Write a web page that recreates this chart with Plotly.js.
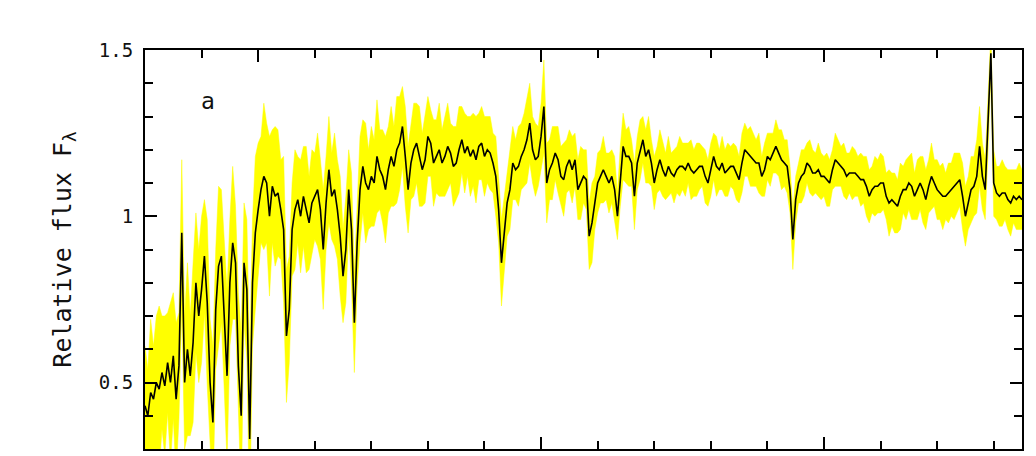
<!DOCTYPE html>
<html>
<head>
<meta charset="utf-8">
<script src="https://cdn.plot.ly/plotly-3.0.1.min.js"></script>
<style>
  body { margin: 0; background: #fff; }
  #spec { width: 1036px; height: 456px; }
</style>
</head>
<body>
<div id="spec"></div>
<script>
// wavelength grid, 10 A steps from 3600 to 6700
var lamStart = 3600, lamStep = 10;

// relative flux (black line), one row per 100 A
var flux = [
  0.43,0.40,0.47,0.45,0.50,0.48,0.53,0.49,0.56,0.50,
  0.58,0.45,0.55,0.95,0.50,0.60,0.52,0.62,0.80,0.70,
  0.78,0.88,0.74,0.50,0.38,0.72,0.85,0.88,0.70,0.52,
  0.80,0.92,0.86,0.55,0.40,0.86,0.78,0.33,0.80,0.95,
  1.02,1.08,1.12,1.10,1.00,1.09,1.06,1.07,1.02,0.96,
  0.64,0.72,0.96,1.02,1.05,1.00,1.06,1.02,0.98,1.04,
  1.06,1.08,1.02,0.90,1.04,1.14,1.06,1.08,1.02,0.94,
  0.82,0.90,1.08,0.96,0.68,0.92,1.08,1.15,1.10,1.08,
  1.12,1.10,1.18,1.14,1.12,1.08,1.14,1.18,1.15,1.20,
  1.22,1.27,1.18,1.08,1.16,1.20,1.22,1.18,1.14,1.17,
  1.24,1.22,1.16,1.18,1.20,1.16,1.18,1.21,1.19,1.15,
  1.16,1.20,1.23,1.19,1.21,1.18,1.20,1.17,1.21,1.22,
  1.18,1.20,1.19,1.16,1.12,1.02,0.86,0.95,1.04,1.08,
  1.16,1.14,1.15,1.18,1.20,1.23,1.28,1.20,1.17,1.18,
  1.24,1.33,1.10,1.14,1.16,1.19,1.17,1.12,1.11,1.15,
  1.17,1.14,1.17,1.08,1.10,1.12,1.11,0.94,0.98,1.04,
  1.10,1.12,1.14,1.12,1.10,1.12,1.08,1.00,1.12,1.21,
  1.18,1.18,1.16,1.06,1.16,1.20,1.23,1.18,1.20,1.16,
  1.10,1.14,1.17,1.14,1.12,1.15,1.13,1.12,1.14,1.15,
  1.15,1.14,1.16,1.14,1.13,1.14,1.15,1.15,1.12,1.10,
  1.14,1.18,1.15,1.14,1.16,1.13,1.14,1.15,1.15,1.13,
  1.11,1.16,1.20,1.19,1.18,1.17,1.16,1.16,1.12,1.14,
  1.18,1.17,1.19,1.21,1.19,1.17,1.16,1.15,1.08,0.93,
  1.05,1.10,1.12,1.13,1.16,1.15,1.13,1.13,1.14,1.12,
  1.12,1.11,1.10,1.14,1.17,1.16,1.15,1.14,1.12,1.13,
  1.13,1.13,1.12,1.11,1.11,1.09,1.06,1.08,1.09,1.09,
  1.10,1.10,1.06,1.04,1.05,1.04,1.03,1.06,1.08,1.08,
  1.10,1.09,1.06,1.08,1.10,1.08,1.05,1.09,1.12,1.10,
  1.08,1.07,1.06,1.06,1.07,1.08,1.09,1.10,1.11,1.06,
  1.00,1.04,1.08,1.09,1.12,1.21,1.12,1.08,1.30,1.49,
  1.10,1.07,1.06,1.07,1.07,1.05,1.04,1.06,1.05,1.06,1.05
];

// half width of the yellow error band
var fluxErr = [
  0.18,0.14,0.22,0.16,0.20,0.25,0.17,0.21,0.15,0.24,
  0.19,0.23,0.16,0.22,0.20,0.26,0.18,0.24,0.21,0.20,
  0.22,0.17,0.25,0.19,0.23,0.18,0.24,0.20,0.22,0.26,
  0.19,0.23,0.17,0.22,0.25,0.18,0.21,0.24,0.19,0.23,
  0.20,0.16,0.22,0.18,0.24,0.17,0.21,0.19,0.15,0.22,
  0.20,0.16,0.14,0.18,0.13,0.17,0.15,0.19,0.14,0.16,
  0.13,0.17,0.15,0.18,0.14,0.16,0.13,0.17,0.15,0.18,
  0.14,0.16,0.12,0.17,0.15,0.13,0.16,0.14,0.18,0.12,
  0.15,0.13,0.17,0.12,0.14,0.16,0.13,0.15,0.12,0.16,
  0.14,0.12,0.15,0.13,0.11,0.14,0.12,0.15,0.11,0.13,
  0.12,0.10,0.13,0.11,0.14,0.10,0.12,0.13,0.09,0.12,
  0.11,0.13,0.10,0.12,0.09,0.12,0.11,0.13,0.10,0.11,
  0.12,0.10,0.11,0.09,0.12,0.10,0.13,0.11,0.10,0.12,
  0.11,0.09,0.12,0.10,0.11,0.13,0.12,0.10,0.11,0.09,
  0.10,0.14,0.12,0.09,0.11,0.08,0.10,0.09,0.11,0.08,
  0.09,0.10,0.08,0.09,0.11,0.08,0.09,0.10,0.12,0.08,
  0.09,0.08,0.10,0.07,0.09,0.08,0.10,0.07,0.09,0.10,
  0.08,0.09,0.07,0.10,0.08,0.09,0.07,0.08,0.10,0.07,
  0.08,0.07,0.09,0.08,0.07,0.09,0.06,0.08,0.07,0.09,
  0.07,0.08,0.06,0.09,0.07,0.08,0.07,0.06,0.08,0.07,
  0.08,0.07,0.09,0.06,0.08,0.07,0.08,0.06,0.07,0.08,
  0.07,0.09,0.08,0.07,0.09,0.08,0.07,0.09,0.06,0.08,
  0.07,0.08,0.06,0.08,0.07,0.09,0.07,0.08,0.07,0.09,
  0.07,0.06,0.08,0.07,0.06,0.08,0.07,0.06,0.08,0.07,
  0.06,0.08,0.07,0.06,0.08,0.07,0.06,0.08,0.07,0.06,
  0.08,0.07,0.06,0.08,0.07,0.09,0.08,0.07,0.09,0.08,
  0.09,0.08,0.07,0.10,0.08,0.09,0.08,0.10,0.07,0.09,
  0.08,0.10,0.07,0.09,0.08,0.10,0.09,0.08,0.10,0.07,
  0.09,0.08,0.10,0.07,0.09,0.08,0.10,0.09,0.08,0.10,
  0.09,0.08,0.10,0.09,0.11,0.12,0.10,0.09,0.10,0.06,
  0.10,0.08,0.09,0.10,0.08,0.09,0.10,0.08,0.09,0.10,0.09
];

var yTickVals = [0.5, 1, 1.5];
var yTickText = ["0.5", "1", "1.5"];
var xTickVals = [4000, 5000, 6000];

var lam = [], lo = [], hi = [];
for (var i = 0; i < flux.length; i++) {
    lam.push(lamStart + i * lamStep);
    lo.push(flux[i] - fluxErr[i]);
    hi.push(flux[i] + fluxErr[i]);
}

var traceLo = {
    x: lam, y: lo, mode: 'lines',
    line: {color: '#ffff00', width: 0.5},
    hoverinfo: 'skip', showlegend: false
};
var traceHi = {
    x: lam, y: hi, mode: 'lines', fill: 'tonexty',
    fillcolor: '#ffff00',
    line: {color: '#ffff00', width: 0.5},
    hoverinfo: 'skip', showlegend: false
};
var traceFlux = {
    x: lam, y: flux, mode: 'lines',
    line: {color: '#000000', width: 1.6},
    showlegend: false
};

var fnt = "'DejaVu Sans Mono', monospace";

var layout = {
    width: 1036, height: 456,
    margin: {l: 145, r: 14, t: 50, b: 7},
    paper_bgcolor: '#fff', plot_bgcolor: '#fff',
    showlegend: false,
    xaxis: {
        range: [3600, 6700],
        tickvals: xTickVals,
        showticklabels: false,
        ticks: 'inside', ticklen: 12, tickwidth: 2, tickcolor: '#000',
        minor: {dtick: 200, tick0: 0, ticks: 'inside', ticklen: 8, tickwidth: 2, tickcolor: '#000'},
        showline: true, linecolor: '#000', linewidth: 2, mirror: 'allticks',
        showgrid: false, zeroline: false
    },
    yaxis: {
        range: [0.3, 1.5],
        tickvals: yTickVals, ticktext: yTickText,
        ticks: 'inside', ticklen: 12, tickwidth: 2, tickcolor: '#000',
        minor: {dtick: 0.1, tick0: 0, ticks: 'inside', ticklen: 8, tickwidth: 2, tickcolor: '#000'},
        showline: true, linecolor: '#000', linewidth: 2, mirror: 'allticks',
        showgrid: false, zeroline: false,
        tickfont: {family: fnt, size: 19, color: '#111'},
        ticklabelstandoff: 6,
        title: {text: 'Relative flux F<sub>λ</sub>', standoff: 20,
                font: {family: fnt, size: 25, color: '#111'}}
    },
    annotations: [{
        text: 'a', xref: 'paper', yref: 'paper', x: 0.0713, y: 0.872,
        xanchor: 'center', yanchor: 'middle',
        showarrow: false, font: {family: fnt, size: 23, color: '#111'}
    }]
};

Plotly.newPlot('spec', [traceLo, traceHi, traceFlux], layout, {staticPlot: true});
</script>
</body>
</html>
